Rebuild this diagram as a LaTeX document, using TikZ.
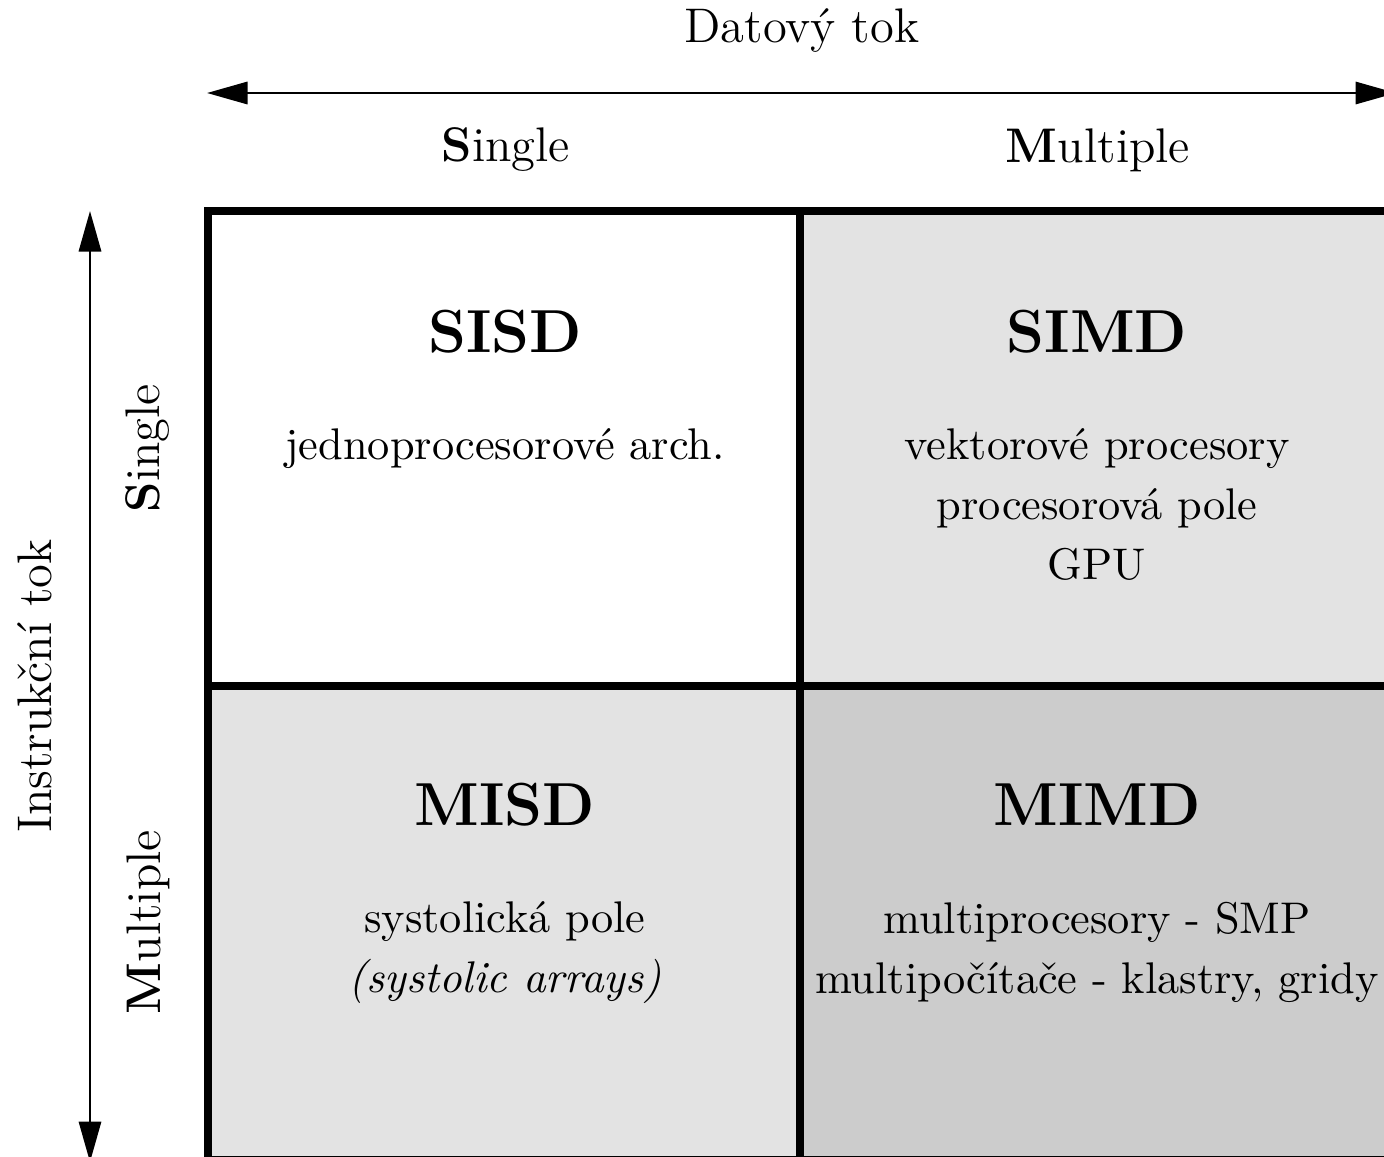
\documentclass[tikz,border=0pt]{standalone}
\usetikzlibrary{arrows.meta}
\begin{document}
\begin{tikzpicture}[x=0.2469pt,y=-0.2469pt,
  cell/.style={draw=black,line width=1.75pt},
  axis/.style={line width=0.6pt,{Triangle[length=10pt,width=5.5pt]}-{Triangle[length=10pt,width=5.5pt]}},
  lbl/.style={font=\fontsize{12}{14}\selectfont,inner sep=0pt},
  head/.style={font=\fontsize{15}{18}\selectfont\bfseries,inner sep=0pt},
  body/.style={font=\fontsize{10.95}{14.8}\selectfont,align=center,inner sep=0pt}]
\useasboundingbox (0,0) rectangle (1384,1157);

% cell fills
\fill[black!11] (800,211) rectangle (1392,686);
\fill[black!11] (208,686) rectangle (800,1160);
\fill[black!20] (800,686) rectangle (1392,1160);

% grid
\draw[cell] (208,211) rectangle (1392,1160);
\draw[cell] (800,211) -- (800,1160);
\draw[cell] (208,686) -- (1392,686);

% data-stream axis
\coordinate (dL) at (207,93);
\coordinate (dR) at (1396,93);
\draw[axis] (dL) -- (dR);
\node[lbl] (dtok) at (802,31) {Datový tok};
\node[lbl] (dS) at (506,150) {\textbf{S}ingle};
\node[lbl] (dM) at (1098,150) {\textbf{M}ultiple};

% instruction-stream axis
\coordinate (iT) at (90,211);
\coordinate (iB) at (90,1162);
\draw[axis] (iB) -- (iT);
\node[lbl,rotate=90] (itok) at (35,686) {Instrukční tok};
\node[lbl,rotate=90] (iS) at (148,448) {\textbf{S}ingle};
\node[lbl,rotate=90] (iM) at (148,922) {\textbf{M}ultiple};

% cell contents
\node[head] (sisd) at (505,332) {SISD};
\node[body,anchor=north] (sisdt) at (505,428) {jednoprocesorové arch.};

\node[head] (simd) at (1097,332) {SIMD};
\node[body,anchor=north] (simdt) at (1097,428) {vektorové procesory\\procesorová pole\\GPU};

\node[head] (misd) at (505,805) {MISD};
\node[body,anchor=north] (misdt) at (505,901) {systolická pole\\\textit{(systolic arrays)}};

\node[head] (mimd) at (1097,805) {MIMD};
\node[body,anchor=north] (mimdt) at (1097,901) {multiprocesory - SMP\\multipočítače - klastry, gridy};
\end{tikzpicture}
\end{document}
